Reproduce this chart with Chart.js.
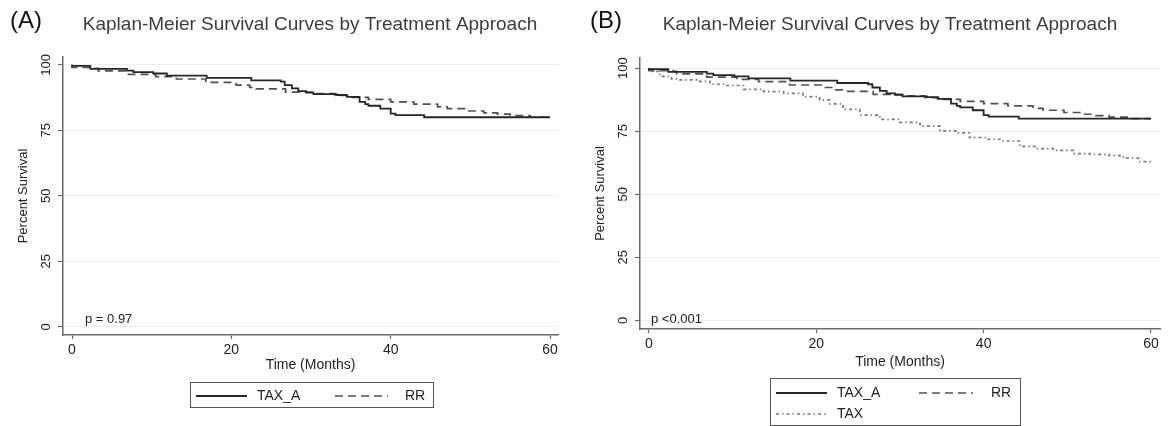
<!DOCTYPE html>
<html>
<head>
<meta charset="utf-8">
<script src="https://cdn.jsdelivr.net/npm/chart.js@4.4.0/dist/chart.umd.min.js"></script>
<style>
  body { margin: 0; background: #fff; width: 1171px; height: 426px; overflow: hidden; position: relative; }
  canvas { position: absolute; top: 0; }
</style>
</head>
<body>
<canvas id="chartA" width="580" height="426" style="left:0"></canvas>
<canvas id="chartB" width="591" height="426" style="left:580px"></canvas>
<script>
// survival (%), time in months
var taxATimes    = [0, 2.3, 6.9, 7.7, 10.2, 11.9, 16.9, 22.5, 26.2, 26.7, 27.6, 28.4, 29.4, 30.3, 33.2, 34.5, 36.1, 36.8, 37.2, 38.7, 40.0, 40.6, 44.2, 45.4, 60];
var taxASurvival = [100, 99.6, 98.5, 97.8, 97.2, 96.7, 95.9, 95.0, 94.1, 93.6, 92.3, 91.0, 90.0, 89.4, 88.8, 88.5, 87.8, 85.9, 85.0, 84.4, 83.3, 81.4, 80.8, 80.0, 80.0];
var rrTimes    = [0, 2.9, 3.3, 6.9, 10.5, 13.1, 16.8, 20.6, 22.3, 23.1, 26.8, 30.3, 33.0, 35.0, 37.2, 40.0, 42.9, 45.9, 47.1, 49.6, 51.7, 53.4, 55.0, 57.5, 60];
var rrSurvival = [100, 99.0, 98.7, 97.7, 96.4, 95.5, 94.6, 93.3, 92.3, 91.4, 90.8, 89.6, 89.0, 88.3, 87.6, 86.8, 85.9, 85.0, 84.0, 83.3, 82.4, 81.7, 81.2, 80.6, 80.0];
var taxTimes    = [0, 1.3, 2.7, 3.7, 5.7, 7.3, 9.3, 11.3, 13.7, 16.1, 18.4, 20.4, 21.6, 23.2, 25.2, 27.6, 30.0, 32.4, 34.8, 36.8, 38.3, 40.3, 42.3, 44.3, 46.3, 48.3, 50.7, 52.7, 55.0, 56.7, 58.5, 60];
var taxSurvival = [100, 98.7, 96.7, 95.7, 95.3, 94.7, 93.6, 93.1, 91.6, 90.7, 90.0, 88.7, 87.4, 85.8, 83.6, 81.4, 79.7, 78.5, 77.0, 75.1, 74.3, 72.5, 71.8, 71.1, 69.0, 68.1, 67.4, 66.1, 65.8, 65.3, 64.3, 62.9];

var xTicks = [0, 20, 40, 60];
var yTicks = [0, 25, 50, 75, 100];
var chartTitle = 'Kaplan-Meier Survival Curves by Treatment Approach';

var FONT = '"Liberation Sans", Arial, Helvetica, sans-serif';
Chart.defaults.font.family = FONT;

var lineStyles = {
  TAX_A: { color: '#262626', width: 1.8, dash: [] },
  RR:    { color: '#505050', width: 1.7, dash: [8, 5] },
  TAX:   { color: '#777777', width: 1.7, dash: [3, 3, 1.5, 3] }
};

function makeSet(label, times, surv) {
  var s = lineStyles[label];
  return {
    label: label,
    data: times.map(function (t, i) { return { x: t, y: surv[i] }; }),
    borderColor: s.color,
    borderWidth: s.width,
    borderDash: s.dash,
    stepped: 'after',
    pointRadius: 0,
    fill: false
  };
}

var decor = {
  id: 'decor',
  afterDraw: function (chart, args, o) {
    var ctx = chart.ctx;
    ctx.save();
    ctx.textBaseline = 'middle';
    // panel tag + title
    ctx.textAlign = 'left';
    ctx.fillStyle = '#111';
    ctx.font = '24px ' + FONT;
    ctx.fillText(o.tag, 10, 21);
    ctx.textAlign = 'center';
    ctx.fillStyle = '#3c3c3c';
    ctx.font = '19px ' + FONT;
    ctx.fillText(chartTitle, o.titleX, 25);
    // p value
    var xs = chart.scales.x, ys = chart.scales.y;
    ctx.textAlign = 'left';
    ctx.fillStyle = '#222';
    ctx.font = '13px ' + FONT;
    ctx.fillText(o.pText, xs.getPixelForValue(o.pAt[0]), ys.getPixelForValue(o.pAt[1]));
    // legend
    var b = o.box;
    ctx.strokeStyle = '#555';
    ctx.lineWidth = 1;
    ctx.strokeRect(b[0] + 0.5, b[1] + 0.5, b[2], b[3]);
    ctx.font = '14px ' + FONT;
    o.items.forEach(function (it, i) {
      var ds = chart.data.datasets[i];
      ctx.strokeStyle = ds.borderColor;
      ctx.lineWidth = ds.borderWidth;
      ctx.setLineDash(ds.borderDash);
      ctx.beginPath();
      ctx.moveTo(it[0], it[1]);
      ctx.lineTo(it[0] + it[2], it[1]);
      ctx.stroke();
      ctx.setLineDash([]);
      ctx.fillStyle = '#222';
      ctx.fillText(ds.label, it[3], it[1]);
    });
    ctx.restore();
  }
};

function makeScales(xr, yr, yWidth, xHeight, yTitlePad, xTitlePad) {
  return {
    x: {
      type: 'linear', min: xr[0], max: xr[1],
      afterBuildTicks: function (s) { s.ticks = xTicks.map(function (v) { return { value: v }; }); },
      afterFit: function (s) { s.height = xHeight; },
      grid: { drawOnChartArea: false, tickLength: 4, tickColor: '#666', tickWidth: 1.2 },
      border: { color: '#6a6a6a', width: 1.5 },
      ticks: { color: '#222', font: { size: 14 }, padding: 3, maxRotation: 0 },
      title: { display: true, text: 'Time (Months)', color: '#222', font: { size: 14 }, padding: { top: 0, bottom: xTitlePad } }
    },
    y: {
      type: 'linear', min: yr[0], max: yr[1],
      afterBuildTicks: function (s) { s.ticks = yTicks.map(function (v) { return { value: v }; }); },
      afterFit: function (s) { s.width = yWidth; },
      grid: { color: '#ededed', lineWidth: 1, tickLength: 5, tickColor: '#666', tickWidth: 1.2 },
      border: { color: '#6a6a6a', width: 1.5 },
      ticks: { color: '#222', font: { size: 13 }, padding: 1, minRotation: 90, maxRotation: 90, crossAlign: 'center' },
      title: { display: true, text: 'Percent Survival', color: '#222', font: { size: 13 }, padding: { top: yTitlePad, bottom: 0 } }
    }
  };
}

new Chart(document.getElementById('chartA'), {
  type: 'line',
  data: { datasets: [makeSet('TAX_A', taxATimes, taxASurvival), makeSet('RR', rrTimes, rrSurvival)] },
  options: {
    responsive: false, animation: false,
    layout: { padding: { top: 57, right: 22, left: 0, bottom: 0 } },
    scales: makeScales([-1.13, 61.0], [-3.1, 103], 63, 91, 16, 52),
    plugins: {
      legend: { display: false }, tooltip: { enabled: false },
      decor: { tag: '(A)', titleX: 310, pText: 'p = 0.97', pAt: [1.63, 3],
        box: [190, 382, 243, 25],
        items: [[196, 396, 51, 257], [335, 396, 53, 405]] }
    }
  },
  plugins: [decor]
});

new Chart(document.getElementById('chartB'), {
  type: 'line',
  data: { datasets: [makeSet('TAX_A', taxATimes, taxASurvival), makeSet('RR', rrTimes, rrSurvival), makeSet('TAX', taxTimes, taxSurvival)] },
  options: {
    responsive: false, animation: false,
    layout: { padding: { top: 58, right: 11, left: 0, bottom: 0 } },
    scales: makeScales([-1.075, 61.08], [-3.4, 104], 60, 97, 13, 55),
    plugins: {
      legend: { display: false }, tooltip: { enabled: false },
      decor: { tag: '(B)', titleX: 310, pText: 'p <0.001', pAt: [0.24, 0.4],
        box: [190, 378, 250, 47],
        items: [[196, 393, 51, 257], [339, 393, 54, 411], [196, 414, 51, 257]] }
    }
  },
  plugins: [decor]
});
</script>
</body>
</html>
